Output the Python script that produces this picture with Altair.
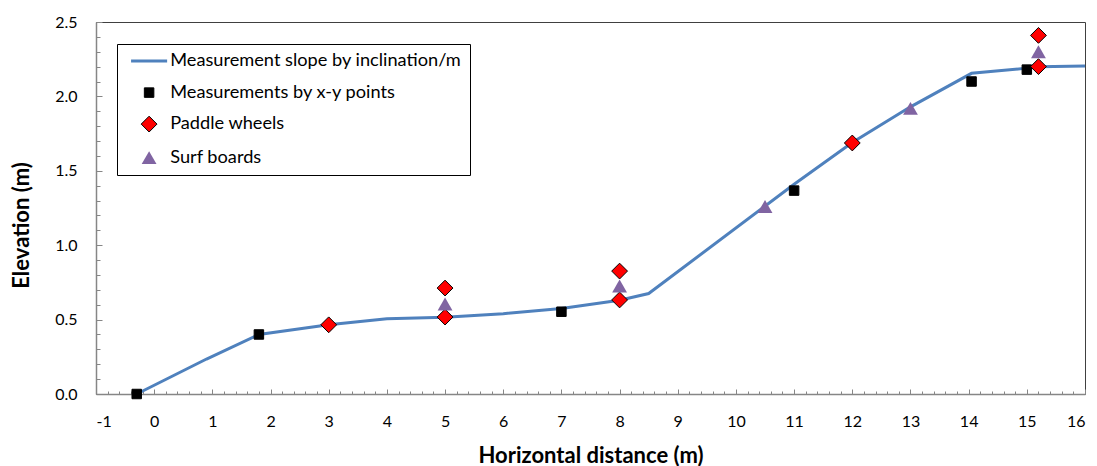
import altair as alt
import pandas as pd

# ---------------- data ----------------
line_x = [-0.3, 0.9, 1.8, 3.0, 4.0, 5.0, 6.0, 7.0, 8.0, 8.5, 11.0, 12.0, 13.0, 14.05, 15.0, 15.2, 16.0]
line_y = [0.0, 0.235, 0.40, 0.465, 0.505, 0.515, 0.54, 0.575, 0.63, 0.675, 1.41, 1.69, 1.93, 2.155, 2.19, 2.20, 2.205]

squares_x = [-0.3, 1.8, 7.0, 11.0, 14.05, 15.0]
squares_y = [0.0, 0.40, 0.553, 1.367, 2.10, 2.18]

diamonds_x = [3.0, 5.0, 5.0, 8.0, 8.0, 12.0, 15.2, 15.2]
diamonds_y = [0.465, 0.517, 0.712, 0.632, 0.826, 1.687, 2.20, 2.41]

triangles_x = [5.0, 8.0, 10.5, 13.0, 15.2]
triangles_y = [0.605, 0.726, 1.26, 1.92, 2.30]

series_names = [
    "Measurement slope by inclination/m",
    "Measurements by x-y points",
    "Paddle wheels",
    "Surf boards",
]

x_major = list(range(-1, 17))
x_minor = [round(-1 + 0.2 * i, 1) for i in range(86)]
y_major = [0.0, 0.5, 1.0, 1.5, 2.0, 2.5]
y_minor = [round(0.1 * i, 1) for i in range(26)]

# ---------------- tables ----------------
line_df = pd.DataFrame({"x": line_x, "y": line_y})
pts_df = pd.concat([
    pd.DataFrame({"x": squares_x, "y": squares_y, "series": series_names[1]}),
    pd.DataFrame({"x": diamonds_x, "y": diamonds_y, "series": series_names[2]}),
    pd.DataFrame({"x": triangles_x, "y": triangles_y, "series": series_names[3]}),
], ignore_index=True)

W, H = 989, 372
FONT = "Lato"
AXIS_GRAY = "#868686"

xscale = alt.Scale(domain=[-1, 16], nice=False, zero=False)
yscale = alt.Scale(domain=[0, 2.5], nice=False, zero=False)

# main axes (labels + titles)
x_main = alt.Axis(values=x_major, labelExpr="datum.value + ''", ticks=False, tickSize=0, grid=False,
                  domainColor=AXIS_GRAY, domainWidth=1.5,
                  labelFont=FONT, labelFontSize=16, labelColor="#000000", labelPadding=19,
                  title="Horizontal distance (m)", titleFont=FONT, titleFontSize=22,
                  titleFontWeight="bold", titleColor="#000000",
                  titleBaseline="middle", titleY=61)
y_main = alt.Axis(values=y_major, format=".1f", ticks=False, tickSize=0, grid=False,
                  domainColor=AXIS_GRAY, domainWidth=1.5,
                  labelFont=FONT, labelFontSize=16, labelColor="#000000", labelPadding=19,
                  title="Elevation (m)", titleFont=FONT, titleFontSize=22,
                  titleFontWeight="bold", titleColor="#000000",
                  titleBaseline="middle", titleX=-75, titleY=203)

# inward ticks (major)
x_major_ax = alt.Axis(orient="top", offset=-H, values=x_major, labels=False, domain=False,
                      grid=False, tickSize=5, tickColor=AXIS_GRAY, tickWidth=1, title=None)
y_major_ax = alt.Axis(orient="right", offset=-W, values=y_major, labels=False, domain=False,
                      grid=False, tickSize=6, tickColor=AXIS_GRAY, tickWidth=1, title=None)
# inward ticks (minor)
x_minor_ax = alt.Axis(orient="top", offset=-H, values=x_minor, labels=False, domain=False,
                      grid=False, tickSize=3, tickColor=AXIS_GRAY, tickWidth=1, title=None)
y_minor_ax = alt.Axis(orient="right", offset=-W, values=y_minor, labels=False, domain=False,
                      grid=False, tickSize=4, tickColor=AXIS_GRAY, tickWidth=1, title=None)

legend = alt.Legend(
    title=None, orient="none", legendX=21, legendY=22,
    strokeColor="#000000", fillColor="#ffffff", padding=8,
    labelFont=FONT, labelFontSize=18.2, labelColor="#000000", labelLimit=400,
    symbolOffset=15, labelOffset=12, rowPadding=12.5, symbolStrokeWidth=1,
)

line_path = "M-2.55,-0.21L2.55,-0.21L2.55,0.21L-2.55,0.21Z"

line_layer = alt.Chart(line_df).mark_line(color="#4F81BD", strokeWidth=3).encode(
    x=alt.X("x:Q", scale=xscale, axis=x_main),
    y=alt.Y("y:Q", scale=yscale, axis=y_main),
)

minor_layer = alt.Chart(line_df).mark_line(strokeOpacity=0).encode(
    x=alt.X("x:Q", scale=xscale, axis=x_minor_ax),
    y=alt.Y("y:Q", scale=yscale, axis=y_minor_ax),
)

pts_layer = alt.Chart(pts_df).mark_point(filled=True, opacity=1, strokeWidth=1).encode(
    x=alt.X("x:Q", scale=xscale, axis=x_major_ax),
    y=alt.Y("y:Q", scale=yscale, axis=y_major_ax),
    fill=alt.Fill("series:N", sort=series_names, legend=legend,
                  scale=alt.Scale(domain=series_names,
                                  range=["#4F81BD", "#000000", "#FF0000", "#8064A2"])),
    stroke=alt.Stroke("series:N", sort=series_names, legend=legend,
                      scale=alt.Scale(domain=series_names,
                                      range=["transparent", "#000000", "#000000", "transparent"])),
    shape=alt.Shape("series:N", sort=series_names, legend=legend,
                    scale=alt.Scale(domain=series_names,
                                    range=[line_path, "square", "diamond", "triangle-up"])),
    size=alt.Size("series:N", sort=series_names, legend=legend,
                  scale=alt.Scale(type="ordinal", domain=series_names,
                                  range=[200, 90, 250, 220])),
)

chart = alt.layer(minor_layer, line_layer, pts_layer).resolve_axis(
    x="independent", y="independent"
).properties(
    width=W, height=H,
    autosize=alt.AutoSizeParams(type="none"),
    padding={"left": 96, "top": 22, "right": 12, "bottom": 72},
    background="#ffffff",
).configure_view(stroke="#404040", strokeWidth=1)

chart.save("out.html", embed_options={"renderer": "svg", "actions": False})
